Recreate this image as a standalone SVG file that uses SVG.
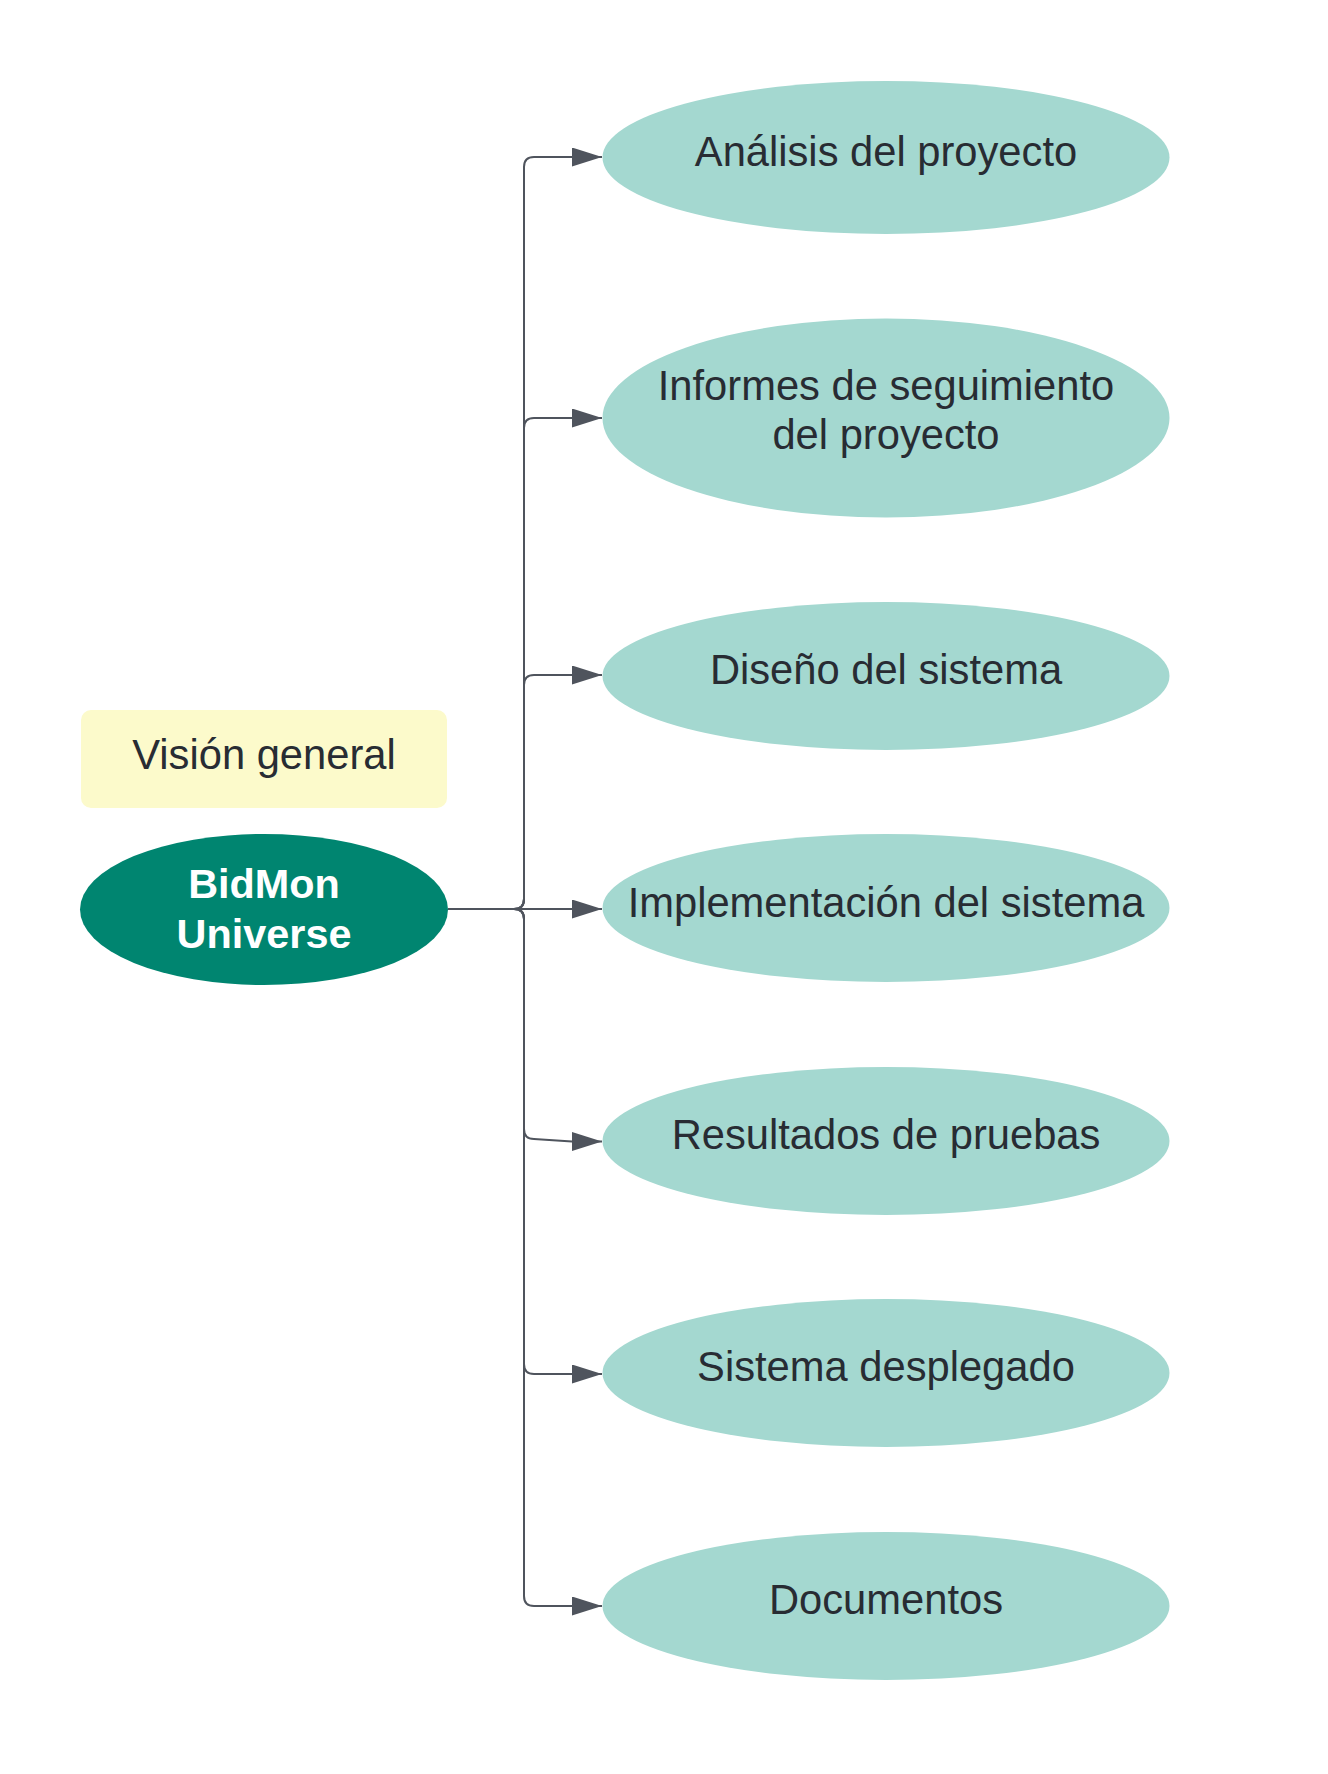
<svg xmlns="http://www.w3.org/2000/svg" width="1328" height="1774" viewBox="0 0 1328 1774">
<defs>
<style>
.sub{fill:#a4d8d0;}
.lbl{font-family:"Liberation Sans",Arial,sans-serif;font-size:41.7px;fill:#282c33;text-anchor:middle;}
.main{fill:#008570;}
.mainlbl{font-family:"Liberation Sans",Arial,sans-serif;font-size:41.4px;font-weight:bold;fill:#ffffff;text-anchor:middle;}
.note{fill:#fcfacb;}
.conn{fill:none;stroke:#4f545d;stroke-width:2;marker-end:url(#arr);}
</style>
<marker id="arr" markerUnits="userSpaceOnUse" markerWidth="31" markerHeight="20" refX="30" refY="9.5" orient="auto">
<path d="M0,0 L30,9.5 L0,19 Z" fill="#4f545d"/>
</marker>
</defs>
<rect width="1328" height="1774" fill="#ffffff"/>
<g id="connectors">
<path class="conn" d="M448,909 L514,909 Q524,909 524,899 L524,167 Q524,157 534,157 L602,157"/>
<path class="conn" d="M448,909 L514,909 Q524,909 524,899 L524,428 Q524,418 534,418 L602,418"/>
<path class="conn" d="M448,909 L514,909 Q524,909 524,899 L524,685 Q524,675 534,675 L602,675"/>
<path class="conn" d="M448,909 L602,909"/>
<path class="conn" d="M448,909 L514,909 Q524,909 524,919 L524,1129 Q524,1139 534,1139 L572,1141.5 L602,1141.5"/>
<path class="conn" d="M448,909 L514,909 Q524,909 524,919 L524,1364 Q524,1374 534,1374 L602,1374"/>
<path class="conn" d="M448,909 L514,909 Q524,909 524,919 L524,1596 Q524,1606 534,1606 L602,1606"/>
</g>
<g id="note-vision">
<rect class="note" x="81" y="710" width="366" height="98" rx="10"/>
<text class="lbl" x="264" y="769">Visión general</text>
</g>
<g id="node-bidmon">
<ellipse class="main" cx="264" cy="909.5" rx="184" ry="75.5"/>
<text class="mainlbl" x="264" y="898">BidMon</text>
<text class="mainlbl" x="264" y="948">Universe</text>
</g>
<g id="node-analisis">
<ellipse class="sub" cx="886" cy="157.5" rx="283.5" ry="76.5"/>
<text class="lbl" x="886" y="165.5">Análisis del proyecto</text>
</g>
<g id="node-informes">
<ellipse class="sub" cx="886" cy="418" rx="283.5" ry="99.5"/>
<text class="lbl" x="886" y="400">Informes de seguimiento</text>
<text class="lbl" x="886" y="449">del proyecto</text>
</g>
<g id="node-diseno">
<ellipse class="sub" cx="886" cy="676" rx="283.5" ry="74"/>
<text class="lbl" x="886" y="684">Diseño del sistema</text>
</g>
<g id="node-implementacion">
<ellipse class="sub" cx="886" cy="908" rx="283.5" ry="74"/>
<text class="lbl" x="886" y="917">Implementación del sistema</text>
</g>
<g id="node-resultados">
<ellipse class="sub" cx="886" cy="1141" rx="283.5" ry="74"/>
<text class="lbl" x="886" y="1149">Resultados de pruebas</text>
</g>
<g id="node-desplegado">
<ellipse class="sub" cx="886" cy="1373" rx="283.5" ry="74"/>
<text class="lbl" x="886" y="1381">Sistema desplegado</text>
</g>
<g id="node-documentos">
<ellipse class="sub" cx="886" cy="1606" rx="283.5" ry="74"/>
<text class="lbl" x="886" y="1614">Documentos</text>
</g>
</svg>
